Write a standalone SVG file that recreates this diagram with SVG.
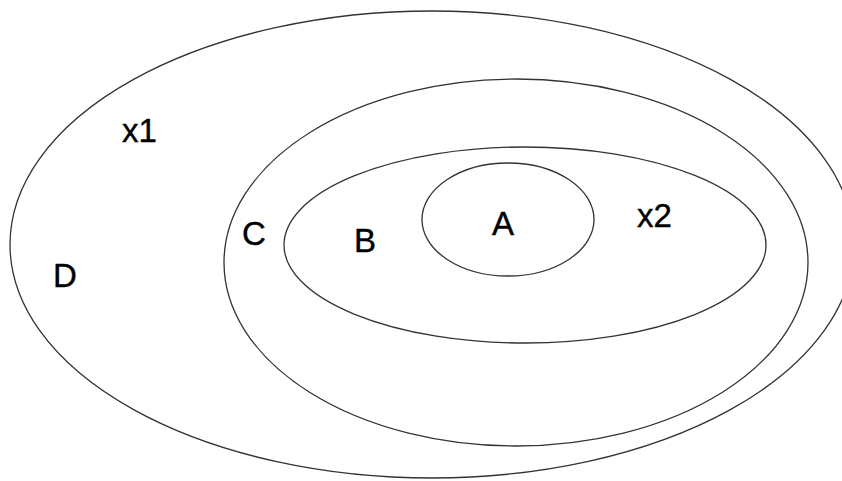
<svg xmlns="http://www.w3.org/2000/svg" width="842" height="481" viewBox="0 0 842 481">
<style>
.set{fill:none;stroke:#333;stroke-width:1.3}
.lbl{font-family:"Liberation Sans",Arial,sans-serif;font-size:33px;fill:#000;stroke:#000;stroke-width:0.4}
</style>
<rect width="842" height="481" fill="#fff"/>
<g id="D"><ellipse class="set" cx="432" cy="244.5" rx="422" ry="233.5"/><text class="lbl" x="53" y="287">D</text><text class="lbl" x="122" y="142">x1</text></g>
<g id="C"><ellipse class="set" cx="516" cy="262.5" rx="292" ry="183.5"/><text class="lbl" x="242" y="245">C</text></g>
<g id="B"><ellipse class="set" cx="525" cy="245" rx="241" ry="98"/><text class="lbl" x="354" y="252">B</text><text class="lbl" x="637" y="227">x2</text></g>
<g id="A"><ellipse class="set" cx="508" cy="219.5" rx="86" ry="56.5"/><text class="lbl" x="492" y="235">A</text></g>
<g id="connectors"></g>
</svg>
